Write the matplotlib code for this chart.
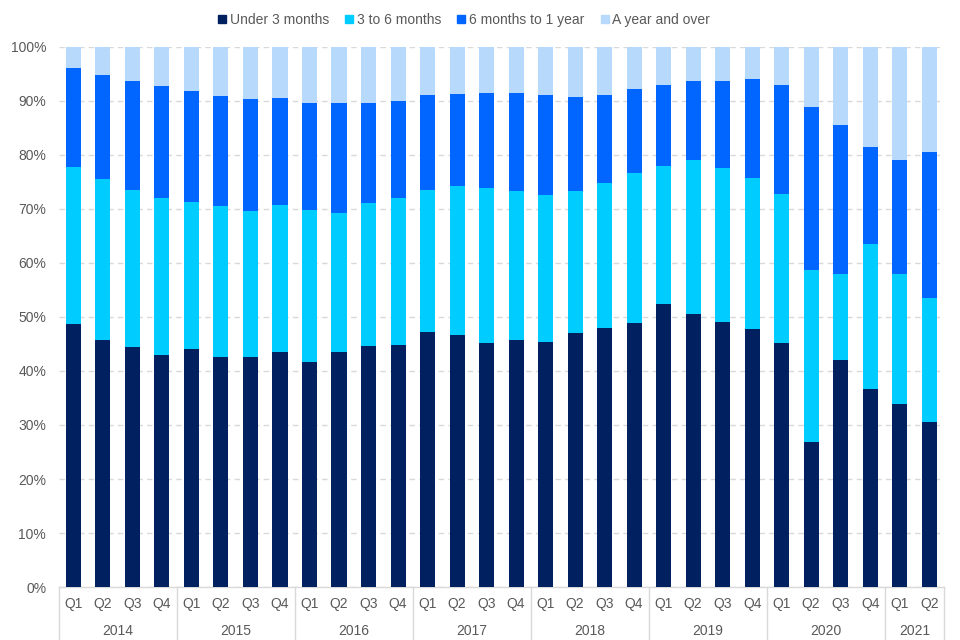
import matplotlib
matplotlib.use("Agg")
import matplotlib.pyplot as plt
import numpy as np
from matplotlib.lines import Line2D

plt.rcParams["font.family"] = ["Liberation Sans", "DejaVu Sans"]

# ---------------------------------------------------------------------------
# Data (percentages)
# ---------------------------------------------------------------------------
years = ["2014", "2015", "2016", "2017", "2018", "2019", "2020", "2021"]
quarters = ["Q1", "Q2", "Q3", "Q4"] * 7 + ["Q1", "Q2"]

under_3m = [48.7, 45.7, 44.4, 43.0, 44.1, 42.6, 42.6, 43.5, 41.7, 43.5, 44.6, 44.8,
            47.2, 46.7, 45.2, 45.7, 45.4, 47.0, 48.0, 48.9, 52.4, 50.6, 49.1, 47.8,
            45.2, 26.9, 42.0, 36.7, 33.9, 30.6]
m3_to_6 = [29.1, 29.9, 29.1, 29.0, 27.2, 28.0, 27.0, 27.2, 28.1, 25.8, 26.5, 27.2,
           26.3, 27.6, 28.7, 27.6, 27.2, 26.3, 26.8, 27.8, 25.6, 28.5, 28.5, 27.9,
           27.6, 31.8, 16.0, 26.8, 24.1, 22.9]
m6_to_1y = [18.3, 19.2, 20.2, 20.8, 20.6, 20.3, 20.8, 19.9, 19.8, 20.3, 18.5, 18.0,
            17.6, 17.0, 17.6, 18.2, 18.5, 17.4, 16.3, 15.5, 15.0, 14.6, 16.1, 18.4,
            20.2, 30.2, 27.6, 18.0, 21.1, 27.1]
year_plus = [3.9, 5.2, 6.3, 7.2, 8.1, 9.1, 9.6, 9.4, 10.4, 10.4, 10.4, 10.0,
             8.9, 8.7, 8.5, 8.5, 8.9, 9.3, 8.9, 7.8, 7.0, 6.3, 6.3, 5.9,
             7.0, 11.1, 14.4, 18.5, 20.9, 19.4]

series = [
    ("Under 3 months", under_3m, "#002060"),
    ("3 to 6 months", m3_to_6, "#00CCFF"),
    ("6 months to 1 year", m6_to_1y, "#0066FF"),
    ("A year and over", year_plus, "#B7D9FC"),
]

GREY = "#595959"
LINE = "#D9D9D9"

fig = plt.figure(figsize=(9.6, 6.4), dpi=100)
ax = fig.add_axes([0.0611, 0.0828, 0.9222, 0.8438])

x = np.arange(len(quarters))
bottom = np.zeros(len(x))
for label, vals, color in series:
    v = np.asarray(vals) / 100.0
    ax.bar(x, v, width=0.51, bottom=bottom, color=color, label=label, zorder=3)
    bottom += v

ax.set_xlim(-0.5, len(x) - 0.5)
ax.set_ylim(0, 1)
ax.set_yticks(np.arange(0, 1.01, 0.1))
ax.set_yticklabels([f"{int(round(t * 100))}%" for t in np.arange(0, 1.01, 0.1)])
ax.yaxis.grid(True, color=LINE, linestyle=(0, (4, 3)), linewidth=1, zorder=0)
ax.tick_params(axis="y", length=0, pad=9, labelsize=10, labelcolor=GREY)

for s in ["top", "right", "left"]:
    ax.spines[s].set_visible(False)
ax.spines["bottom"].set_color(LINE)
ax.spines["bottom"].set_linewidth(1)

# category axis: quarters, then years with separators
ax.set_xticks(x)
ax.set_xticklabels([])
ax.tick_params(axis="x", length=0)
trans = ax.get_xaxis_transform()
for i, q in enumerate(quarters):
    ax.text(i, -0.031, q, transform=trans, ha="center", va="center",
            fontsize=10, color=GREY)

start = 0
for yr in years:
    n = 2 if yr == "2021" else 4
    ax.text(start + (n - 1) / 2, -0.081, yr, transform=trans, ha="center",
            va="center", fontsize=10, color=GREY)
    start += n

for b in np.arange(-0.5, len(x), 4).tolist() + [len(x) - 0.5]:
    ax.add_line(Line2D([b, b], [0, -0.1], transform=trans, color=LINE,
                       linewidth=1, clip_on=False))

handles = [Line2D([], [], marker="s", linestyle="none", markersize=6,
                  markerfacecolor=c, markeredgecolor=c) for _, _, c in series]
fig.legend(handles, [s[0] for s in series], loc="center", ncol=4,
           bbox_to_anchor=(0.482, 0.969), frameon=False, fontsize=10,
           handletextpad=0.05, columnspacing=0.95, labelcolor=GREY,
           handlelength=1.0)

fig.savefig("out.png", dpi=100)
